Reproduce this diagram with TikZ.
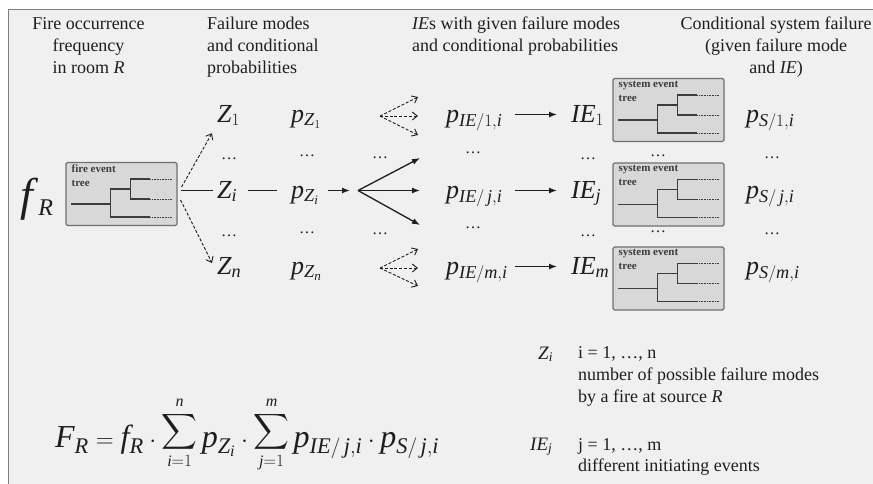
\documentclass[tikz,border=0pt]{standalone}
\usepackage{exscale}
\usepackage{fontspec}
\setmainfont{Liberation Serif}
\usetikzlibrary{arrows.meta}
\definecolor{bg}{HTML}{F0F0F0}
\definecolor{framec}{HTML}{7F7F7F}
\definecolor{ink}{HTML}{1E1E1E}
\definecolor{boxfill}{HTML}{D8D8D8}
\definecolor{boxline}{HTML}{707070}
\definecolor{treeline}{HTML}{3C3C3C}
\newcommand\mv[1]{\mathit{#1}}
\newcommand\bigsum{\mathop{\raisebox{9pt}{\fontsize{23}{26}\selectfont$\displaystyle\sum$}}\limits}
\newcommand\evtree[2]{%
  \node[treelbl] (#1l) at ([shift={(6pt,-3pt)}]#1.north west) {#2};
  \begin{scope}[shift={(#1.north west)}]
    \draw[treeln] (6,42) -- (45,42) (65,27) -- (45,27) -- (45,55) -- (85,55) (85,17) -- (65,17) -- (65,37) -- (85,37);
    \draw[treedot] (85,17) -- (106,17) (85,37) -- (106,37) (85,55) -- (106,55);
  \end{scope}}
\begin{document}
\begin{tikzpicture}[x=1pt,y=-1pt,
  hdr/.style={font=\fontsize{18}{22}\selectfont, inner sep=0, text=ink},
  mth/.style={font=\fontsize{26}{30}\selectfont, inner sep=0, text=ink, anchor=base west, text height=19pt, text depth=4pt},
  lmth/.style={font=\fontsize{19}{22}\selectfont, inner sep=0, text=ink, anchor=base west},
  dts/.style={font=\fontsize{16}{18}\selectfont, inner sep=0, text=ink, anchor=base},
  treebox/.style={draw=boxline, fill=boxfill, line width=1.1pt, rounded corners=1.5pt, minimum width=111pt, minimum height=63pt, inner sep=0},
  treelbl/.style={font=\bfseries\fontsize{11}{14}\selectfont, inner sep=0, align=left, text=treeline, anchor=north west},
  treeln/.style={draw=treeline, line width=1.4pt},
  treedot/.style={draw=treeline, line width=0.8pt, dash pattern=on 0.8pt off 0.8pt},
  sarr/.style={-{Latex[length=8pt,width=6pt]}, line width=1.3pt, draw=ink},
  sline/.style={line width=1.3pt, draw=ink},
  darr/.style={-{Straight Barb[length=5pt,width=8pt]}, line width=0.9pt, dash pattern=on 3pt off 1.8pt, draw=ink},
]
\useasboundingbox (0,0) rectangle (873,483);
\clip (0,0) rectangle (873,483);
\fill[white] (0,0) rectangle (873,483);
\draw[draw=framec, line width=1.6pt, fill=bg] (8.5,9.5) rectangle (900,520);

% headers
\node[hdr, anchor=base] (h1a) at (88.5,29) {Fire occurrence};
\node[hdr, anchor=base] (h1b) at (88.5,51) {frequency};
\node[hdr, anchor=base] (h1c) at (88.5,73) {in room \textit{R}};
\node[hdr, anchor=base west] (h2a) at (207,29) {Failure modes};
\node[hdr, anchor=base west] (h2b) at (207,51) {and conditional};
\node[hdr, anchor=base west] (h2c) at (207,73) {probabilities};
\node[hdr, anchor=base west] (h3a) at (412,29) {\textit{IE}s with given failure modes};
\node[hdr, anchor=base west] (h3b) at (412,51) {and conditional probabilities};
\node[hdr, anchor=base] (h4a) at (776,29) {Conditional system failure};
\node[hdr, anchor=base] (h4b) at (776,51) {(given failure mode};
\node[hdr, anchor=base] (h4c) at (776,73) {and \textit{IE})};

% f_R and fire event tree
\node[inner sep=0, anchor=base west, text=ink] (fR) at (20,210) {\fontsize{46}{48}\selectfont\textit{f}\raisebox{-5pt}{\fontsize{24}{26}\selectfont\textit{R}}};
\node[treebox] (fb) at (121.5,194) {};
\evtree{fb}{fire event\\tree}

% system event trees
\node[treebox] (sb1) at (668.5,110) {};
\evtree{sb1}{system event\\tree}
\node[treebox] (sb2) at (668.5,194.5) {};
\evtree{sb2}{system event\\tree}
\node[treebox] (sb3) at (668.5,278.5) {};
\evtree{sb3}{system event\\tree}

% math rows
\node[mth] (z1) at (217,122) {$\mv{Z}_1$};
\node[mth] (zi) at (217,198) {$\mv{Z}_{\mv{i}}$};
\node[mth] (zn) at (217,274) {$\mv{Z}_{\mv{n}}$};
\node[mth] (pz1) at (291,122) {$\mv{p}_{\mv{Z}_1}$};
\node[mth] (pzi) at (291,198) {$\mv{p}_{\mv{Z}_{\mv{i}}}$};
\node[mth] (pzn) at (291,274) {$\mv{p}_{\mv{Z}_{\mv{n}}}$};
\node[mth] (pie1) at (446,122) {$\mv{p}_{\mv{IE}/1,\mv{i}}$};
\node[mth] (piej) at (446,198) {$\mv{p}_{\mv{IE}/\,\mv{j},\mv{i}}$};
\node[mth] (piem) at (446,274) {$\mv{p}_{\mv{IE}/\mv{m},\mv{i}}$};
\node[mth] (ie1) at (571,122) {$\mv{IE}_1$};
\node[mth] (iej) at (571,198) {$\mv{IE}_{\mv{j}}$};
\node[mth] (iem) at (571,274) {$\mv{IE}_{\mv{m}}$};
\node[mth] (ps1) at (746,122) {$\mv{p}_{\mv{S}/1,\mv{i}}$};
\node[mth] (psj) at (746,198) {$\mv{p}_{\mv{S}/\,\mv{j},\mv{i}}$};
\node[mth] (psm) at (746,274) {$\mv{p}_{\mv{S}/\mv{m},\mv{i}}$};

% dots
\node[dts] (d1a) at (229,159) {…};
\node[dts] (d1b) at (229,236) {…};
\node[dts] (d2a) at (307,156) {…};
\node[dts] (d2b) at (307,233) {…};
\node[dts] (d3a) at (380,158) {…};
\node[dts] (d3b) at (380,234) {…};
\node[dts] (d4a) at (473,153) {…};
\node[dts] (d4b) at (473,228) {…};
\node[dts] (d5a) at (588,159) {…};
\node[dts] (d5b) at (588,236) {…};
\node[dts] (d6a) at (658,156) {…};
\node[dts] (d6b) at (658,232) {…};
\node[dts] (d7a) at (772,158) {…};
\node[dts] (d7b) at (772,234) {…};

% connectors from fire tree
\draw[darr] ([shift={(4pt,7pt)}]fb.east) -- ([shift={(-5pt,-7pt)}]z1.south west);
\draw[sline, shorten <=3pt, shorten >=4pt] (zi.west -| fb.east) -- (zi.west);
\draw[darr] ([shift={(3pt,-6pt)}]fb.east) -- ([shift={(-5pt,3.5pt)}]zn.west);
\draw[sline] ([xshift=31pt]zi.west) -- ([xshift=-14pt]pzi.west);

% fan
\coordinate (fo) at (358,190.5);
\coordinate (fan1) at (420,158);
\coordinate (fan2) at (420,190.5);
\coordinate (fan3) at (420,225);
\draw[sarr, shorten >=8pt] ([xshift=37pt]pzi.west) -- (fo);
\draw[sarr] (fo) -- (fan1);
\draw[sarr] (fo) -- (fan2);
\draw[sarr] (fo) -- (fan3);

\coordinate (dt) at (380,116);
\coordinate (dt1) at (418,97);
\coordinate (dt2) at (418,116);
\coordinate (dt3) at (418,135);
\draw[darr] (dt) -- (dt1);
\draw[darr] (dt) -- (dt2);
\draw[darr] (dt) -- (dt3);
\coordinate (db) at (380,268);
\coordinate (db1) at (418,249);
\coordinate (db2) at (418,268);
\coordinate (db3) at (418,286);
\draw[darr] (db) -- (db1);
\draw[darr] (db) -- (db2);
\draw[darr] (db) -- (db3);

% p_IE -> IE
\draw[sarr] ([xshift=69pt]pie1.west) -- ([xshift=-14pt]ie1.west);
\draw[sarr] ([xshift=69pt]piej.west) -- ([xshift=-14pt]iej.west);
\draw[sarr] ([xshift=69pt]piem.west) -- ([xshift=-14pt]iem.west);

% formula
\node[inner sep=0, anchor=base west, text=ink, font=\fontsize{32}{36}\selectfont] (form) at (55,447)
 {$\mv{F}_{\mv{R}} = \mv{f}_{\mv{R}}\cdot\bigsum_{\scriptscriptstyle\mv{i}=1}^{\scriptscriptstyle\mv{n}} \mv{p}_{\mv{Z}_{\mv{i}}}\cdot\bigsum_{\scriptscriptstyle\mv{j}=1}^{\scriptscriptstyle\mv{m}} \mv{p}_{\mv{IE}/\,\mv{j},\mv{i}}\cdot \mv{p}_{\mv{S}/\,\mv{j},\mv{i}}$};

% legend
\node[lmth] (lgz) at (538,359) {$\mv{Z}_{\mv{i}}$};
\node[hdr, anchor=base west] (lgz1) at (578,358) {i = 1, …, n};
\node[hdr, anchor=base west] (lgz2) at (578,380) {number of possible failure modes};
\node[hdr, anchor=base west] (lgz3) at (578,402) {by a fire at source \textit{R}};
\node[lmth] (lgi) at (530,450) {$\mv{IE}_{\mv{j}}$};
\node[hdr, anchor=base west] (lgi1) at (578,450) {j = 1, …, m};
\node[hdr, anchor=base west] (lgi2) at (578,471) {different initiating events};
\end{tikzpicture}
\end{document}
